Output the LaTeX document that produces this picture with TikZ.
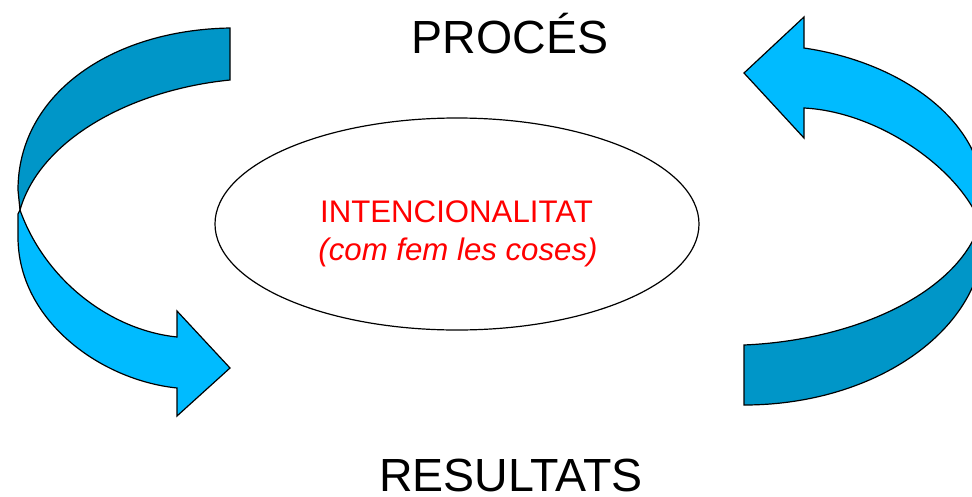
\documentclass[tikz,border=0pt]{standalone}
\usepackage{fontspec}
\setmainfont{Liberation Sans}
\usetikzlibrary{shapes.geometric}
\definecolor{lightblue}{HTML}{00BBFF}
\definecolor{darkblue}{HTML}{0096C8}
\definecolor{txtred}{HTML}{FF0000}
\tikzset{
  band/.style={draw=black, line width=1.2pt, line join=miter},
  bigtext/.style={anchor=base, inner sep=0pt, font=\fontsize{46.5}{56}\selectfont},
  midtext/.style={anchor=base, inner sep=0pt, text=txtred, font=\fontsize{31.2}{37.4}\selectfont},
  oval/.style={draw=black, line width=1.2pt, ellipse, inner sep=0pt}
}
\begin{document}
\begin{tikzpicture}[x=1pt,y=-1pt]
\useasboundingbox (0,0) rectangle (972,496);
\clip (0,0) rectangle (972,496);
% left curved arrow
\path[band, fill=darkblue] (230,28) .. controls (110,30) and (18,95) .. (18,190)
  -- (20,210) .. controls (40,140) and (130,90) .. (230,80) -- cycle;
\path[band, fill=lightblue] (20,210) -- (18,214) -- (18,237)
  .. controls (18,320) and (100,380) .. (177,388) -- (177,416) -- (230,368)
  -- (177,311) -- (177,337) .. controls (110,330) and (45,280) .. (20,210) -- cycle;
% right curved arrow
\path[band, fill=lightblue] (804,48) .. controls (900,62) and (984,120) .. (984,200)
  -- (984,216) -- (980,223) .. controls (960,170) and (880,112) .. (804,108)
  -- (804,138) -- (744,73) -- (804,17) -- cycle;
\path[band, fill=darkblue] (980,223) -- (984,228) -- (984,235)
  .. controls (984,328.9) and (876.5,405) .. (744,405) -- (744,345)
  .. controls (860,340) and (960,290) .. (980,223) -- cycle;
% central ellipse
\node[oval, minimum width=484pt, minimum height=212pt] (ell) at (457,224) {};
\node[midtext] (intl) at (456.5,222.7) {INTENCIONALITAT};
\node[midtext] (intc) at (458,260) {\itshape (com fem les coses)};
% titles
\node[bigtext] (proc) at (510,53.3) {PROCÉS};
\node[bigtext] (res) at (511,491) {RESULTATS};
\end{tikzpicture}
\end{document}
